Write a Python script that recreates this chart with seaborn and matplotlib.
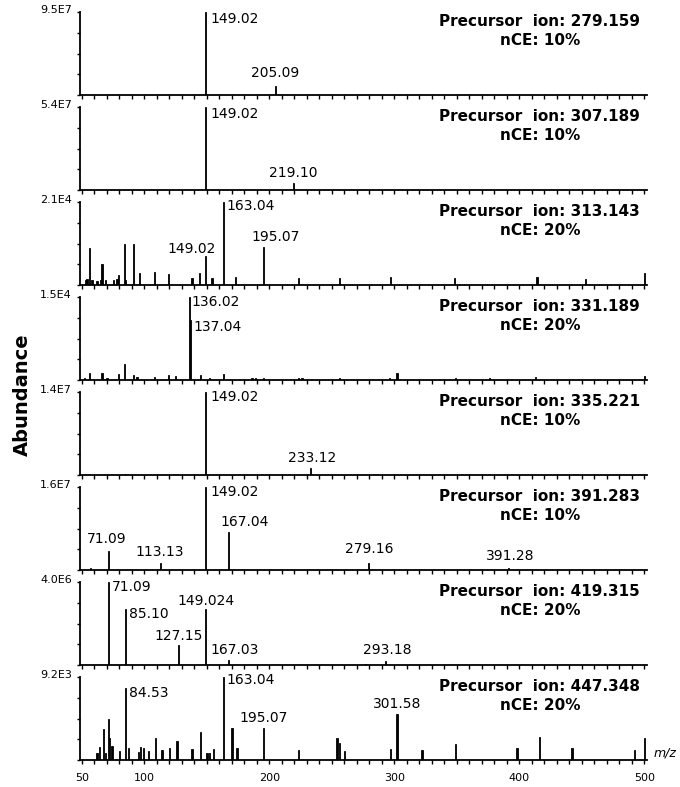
import numpy as np
import pandas as pd
import seaborn as sns
import matplotlib.pyplot as plt
from matplotlib.ticker import MultipleLocator

# precursor ions and collision energy, top to bottom
precursors = ["279.159", "307.189", "313.143", "331.189", "335.221", "391.283", "419.315", "447.348"]
nce = ["10%", "10%", "20%", "20%", "10%", "10%", "20%", "20%"]
# abundance of the base peak (top of each y axis)
top_abundance = ["9.5E7", "5.4E7", "2.1E4", "1.5E4", "1.4E7", "1.6E7", "4.0E6", "9.2E3"]

# fragment m/z and relative intensity (%)
mz_279 = [149.02, 205.09]
rel_279 = [100, 11]

mz_307 = [149.02, 219.10]
rel_307 = [100, 8]

mz_313 = [53.3, 54.3, 55.9, 57.8, 61.8, 64.5, 66.3, 69.3, 75.1, 77.8, 79.1, 83.6, 85.2, 90.6, 95.9,
          107.9, 118.6, 137.8, 143.9, 149.02, 154.1, 163.04, 173.0, 195.07, 222.5, 255.5, 296.5,
          347.9, 414.3, 452.5, 499.5]
rel_313 = [6, 7, 44, 6, 5, 6, 25, 6, 6, 7, 12, 50, 6, 50, 14,
           16, 13, 9, 15, 35, 8, 100, 10, 46, 8, 9, 10,
           9, 10, 7, 14]

mz_331 = [52.0, 55.9, 66.3, 70.0, 79.1, 83.6, 91.1, 94.0, 107.5, 119.1, 125.0, 136.02, 137.04,
          144.5, 152.0, 163.0, 186.0, 189.0, 195.0, 223.0, 226.0, 256.0, 296.0, 301.8, 348.5,
          376.0, 412.5, 500.0]
rel_331 = [3, 9, 9, 3, 7, 19, 6, 4, 4, 6, 5, 100, 72,
           6, 3, 7, 3, 2, 3, 3, 2, 3, 3, 9, 3,
           2, 4, 5]

mz_335 = [84.5, 149.02, 233.12]
rel_335 = [1, 100, 8]

mz_391 = [57.0, 71.09, 113.13, 149.02, 167.04, 279.16, 391.28]
rel_391 = [3, 23, 8, 100, 46, 8, 2]

mz_419 = [71.09, 85.10, 127.15, 149.024, 167.03, 276.5, 293.18]
rel_419 = [100, 67, 24, 67, 6, 1.5, 5]

mz_447 = [62.3, 63.6, 66.9, 68.5, 70.6, 71.5, 73.8, 80.2, 84.53, 86.6, 94.6, 96.7, 99.1, 103.1,
          109.0, 113.8, 119.9, 125.8, 138.3, 145.0, 149.8, 151.7, 154.6, 163.04, 169.8, 174.1,
          195.07, 223.1, 254.3, 255.9, 259.5, 297.3, 301.58, 321.8, 349.0, 397.8, 415.7, 442.3,
          491.7, 500.0]
rel_447 = [9, 16, 37, 8, 49, 26, 17, 11, 87, 14, 10, 16, 14, 11,
           26, 12, 15, 23, 13, 34, 8, 9, 13, 100, 38, 14,
           39, 12, 27, 21, 11, 13, 56, 12, 19, 14, 28, 15,
           12, 27]

# annotated peaks in each spectrum
labels_279 = ["149.02", "205.09"]
labels_307 = ["149.02", "219.10"]
labels_313 = ["163.04", "149.02", "195.07"]
labels_331 = ["136.02", "137.04"]
labels_335 = ["149.02", "233.12"]
labels_391 = ["149.02", "167.04", "71.09", "113.13", "279.16", "391.28"]
labels_419 = ["71.09", "85.10", "149.024", "127.15", "167.03", "293.18"]
labels_447 = ["163.04", "84.53", "195.07", "301.58"]

# where each annotation sits: (x in m/z, y as fraction of axis height, alignment)
label_at_279 = [(152.5, 0.92, "left"), (204.7, 0.27, "center")]
label_at_307 = [(152.5, 0.92, "left"), (219.1, 0.21, "center")]
label_at_313 = [(166.0, 0.95, "left"), (137.8, 0.435, "center"), (205.3, 0.58, "center")]
label_at_331 = [(137.8, 0.94, "left"), (139.5, 0.64, "left")]
label_at_335 = [(152.5, 0.94, "left"), (233.8, 0.20, "center")]
label_at_391 = [(152.5, 0.94, "left"), (180.5, 0.575, "center"), (69.8, 0.375, "center"),
                (112.5, 0.22, "center"), (279.8, 0.25, "center"), (392.9, 0.17, "center")]
label_at_419 = [(74.3, 0.94, "left"), (88.0, 0.61, "left"), (149.1, 0.775, "center"),
                (127.1, 0.35, "center"), (171.8, 0.175, "center"), (294.5, 0.18, "center")]
label_at_447 = [(166.0, 0.96, "left"), (87.5, 0.81, "left"), (195.5, 0.51, "center"),
                (302.5, 0.68, "center")]

spectra = [(mz_279, rel_279), (mz_307, rel_307), (mz_313, rel_313), (mz_331, rel_331),
           (mz_335, rel_335), (mz_391, rel_391), (mz_419, rel_419), (mz_447, rel_447)]
peak_labels = [labels_279, labels_307, labels_313, labels_331,
               labels_335, labels_391, labels_419, labels_447]
peak_label_at = [label_at_279, label_at_307, label_at_313, label_at_331,
                 label_at_335, label_at_391, label_at_419, label_at_447]

sns.set_theme(style="ticks")
plt.rcParams['font.family'] = ['DejaVu Sans']
# plain black text like the instrument printout
plt.rcParams['text.color'] = 'black'
plt.rcParams['xtick.color'] = 'black'
plt.rcParams['ytick.color'] = 'black'
plt.rcParams['xtick.labelcolor'] = 'black'

W, H = 680, 787
fig = plt.figure(figsize=(W / 100, H / 100), dpi=100)

for i, (mz, rel) in enumerate(spectra):
    top_px = 12 + 95 * i
    ax = fig.add_axes([80 / W, 1 - (top_px + 83) / H, 567 / W, 83 / H])

    # 1 m/z wide bins so every fragment becomes a thin stick
    df = pd.DataFrame({"mz": mz, "rel": rel})
    sns.histplot(data=df, x="mz", weights="rel", binwidth=1.0, binrange=(47.5, 501.5),
                 color="black", alpha=1, edgecolor="black", linewidth=0.6, ax=ax)

    ax.set_xlim(48.5, 502)
    ax.set_ylim(0, 100)
    ax.set_xlabel("")
    ax.set_ylabel("")
    sns.despine(ax=ax)
    for side in ["left", "bottom"]:
        ax.spines[side].set_linewidth(1.3)
        ax.spines[side].set_color("black")

    ax.set_yticks([0, 25, 50, 75, 100])
    ax.tick_params(axis="y", length=2.5, width=1, direction="out", labelleft=False, color="black")
    ax.set_xticks([50, 100, 200, 300, 400, 500])
    ax.xaxis.set_minor_locator(MultipleLocator(10))
    ax.tick_params(axis="x", which="both", length=3, width=1, direction="out", color="black",
                   labelsize=8, pad=6.5, labelbottom=(i == len(spectra) - 1))

    # base peak abundance at top of the y axis
    ax.text(-0.014, 1.03, top_abundance[i], transform=ax.transAxes, ha="right", va="center",
            fontsize=8)

    ax.text(0.811, 0.975, f"Precursor  ion: {precursors[i]}\nnCE: {nce[i]}",
            transform=ax.transAxes, ha="center", va="top", fontsize=11, fontweight="bold",
            linespacing=1.3, multialignment="center")

    for s, (x, y, ha) in zip(peak_labels[i], peak_label_at[i]):
        ax.text(x, y, s, transform=ax.get_xaxis_transform(), ha=ha, va="center", fontsize=10)

    if i == len(spectra) - 1:
        ax.text(1.012, 0.08, "m/z", transform=ax.transAxes, ha="left", va="center",
                fontsize=9, style="italic")

fig.text(22 / W, 1 - 395 / H, "Abundance", rotation=90, fontsize=14, fontweight="bold",
         ha="center", va="center")

fig.savefig("out.png", dpi=100)
